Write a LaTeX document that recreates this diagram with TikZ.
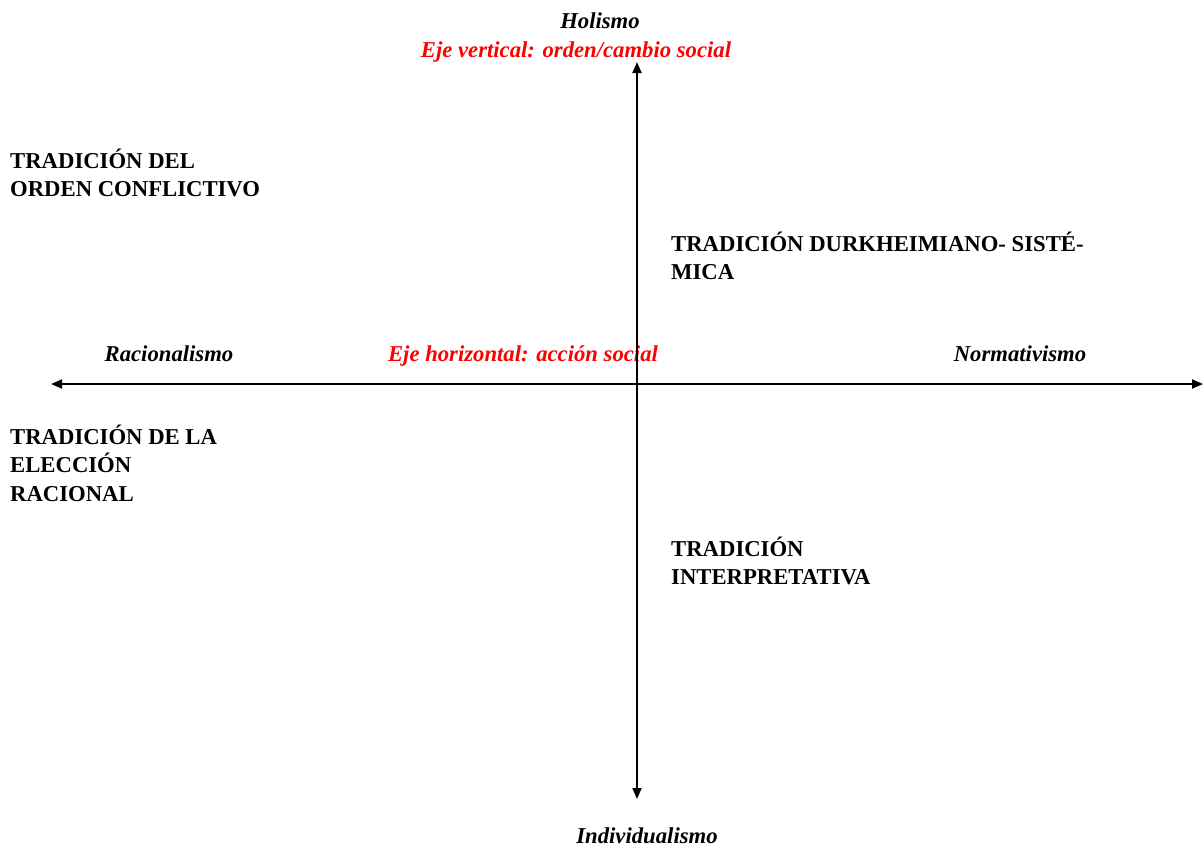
\documentclass[tikz,border=0pt]{standalone}
\usepackage{fontspec}
\setmainfont{Liberation Serif}
\usetikzlibrary{arrows.meta}
\begin{document}
\begin{tikzpicture}[x=1pt,y=-1pt,
  trad/.style={font=\fontsize{22.7}{28.5}\selectfont\bfseries, align=left, inner sep=0pt, anchor=base west},
  pole/.style={font=\fontsize{22.7}{28.5}\selectfont\bfseries\itshape, inner sep=0pt, anchor=base},
  axlab/.style={pole, text=red},
  axis/.style={line width=1.8pt, -{Triangle[length=11pt,width=9pt]}}]
\useasboundingbox (0,0) rectangle (1203,847);
\node[pole] (hol) at (600,28) {Holismo};
\node[axlab] (ejev) at (576,57) {Eje vertical: orden/cambio social};
\node[pole] (ind) at (647,843) {Individualismo};
\node[pole] (rac) at (169,361) {Racionalismo};
\node[axlab] (ejeh) at (523,361) {Eje horizontal: acción social};
\node[pole] (nor) at (1020,361) {Normativismo};
\coordinate (c) at (637,384);
\coordinate (top) at (637,62);
\coordinate (bot) at (637,799);
\coordinate (left) at (51,384);
\coordinate (right) at (1203,384);
\draw[axis] (c) -- (top);
\draw[axis] (c) -- (bot);
\draw[axis] (c) -- (left);
\draw[axis] (c) -- (right);
\node[trad] (t1) at (10,196.5) {TRADICIÓN DEL\\ORDEN CONFLICTIVO};
\node[trad] (t2) at (671,279.5) {TRADICIÓN DURKHEIMIANO- SISTÉ-\\MICA};
\node[trad] (t3) at (10,501) {TRADICIÓN DE LA\\ELECCIÓN\\RACIONAL};
\node[trad] (t4) at (671,584.5) {TRADICIÓN\\INTERPRETATIVA};
\end{tikzpicture}
\end{document}
